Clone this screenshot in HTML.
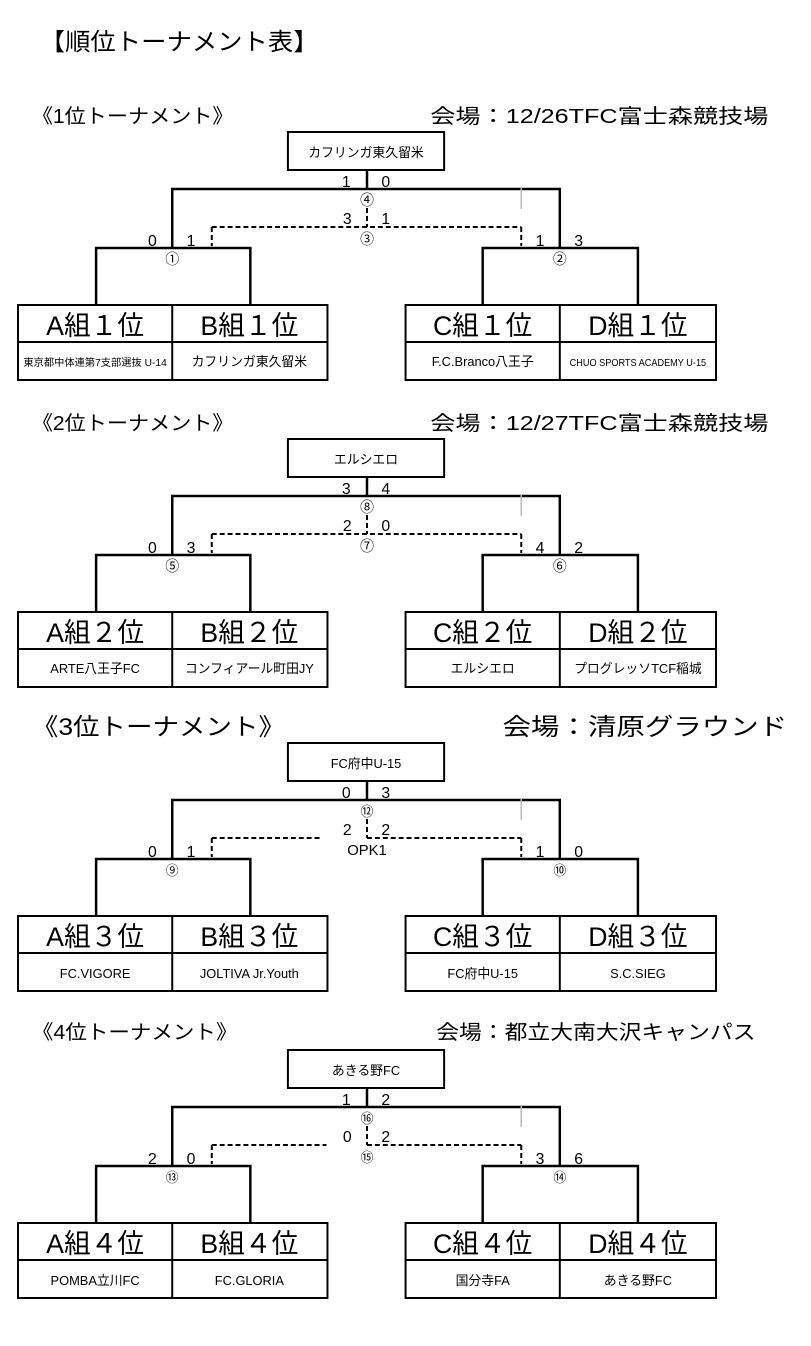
<!DOCTYPE html>
<html><head><meta charset="utf-8"><style>
html,body{margin:0;padding:0;background:#fff;}
svg{display:block;}
text{font-family:"Liberation Sans","Noto Sans CJK JP",sans-serif;fill:#000;}
</style></head><body>
<svg width="811" height="1346" viewBox="0 0 811 1346" xmlns="http://www.w3.org/2000/svg">
<defs>
<g id="br" fill="none" stroke="#000">
  <rect x="291" y="132" width="158" height="38" stroke-width="2"/>
  <line x1="371" y1="170" x2="371" y2="189" stroke-width="2.5"/>
  <polyline points="174,248 174,189 566,189 566,248" stroke-width="2.5"/>
  <polyline points="97,305 97,248 253,248 253,305" stroke-width="2.5"/>
  <polyline points="488,305 488,248 645,248 645,305" stroke-width="2.5"/>
  <line x1="527" y1="188" x2="527" y2="209" stroke="#b8b0e0" stroke-width="1.5"/>
  <rect x="18" y="305" width="313" height="75" stroke-width="2"/>
  <line x1="18" y1="342" x2="331" y2="342" stroke-width="2"/>
  <line x1="174" y1="305" x2="174" y2="380" stroke-width="2"/>
  <rect x="410" y="305" width="314" height="75" stroke-width="2"/>
  <line x1="410" y1="342" x2="724" y2="342" stroke-width="2"/>
  <line x1="566" y1="305" x2="566" y2="380" stroke-width="2"/>
  <g stroke-dasharray="5,3" stroke-width="2">
    <line x1="371" y1="208" x2="371" y2="227"/>
    <line x1="214" y1="227" x2="214" y2="246"/>
    <line x1="527" y1="227" x2="527" y2="246"/>
  </g>
</g>
</defs>
<g transform="translate(0.2,0) scale(0.9887,1)">
<text x="40" y="50" font-size="24" textLength="282" lengthAdjust="spacingAndGlyphs">【順位トーナメント表】</text>

<!-- Section 1 -->
<g transform="translate(0,0)">
<use href="#br"/>
<line x1="214" y1="227" x2="527" y2="227" stroke="#000" stroke-width="2" stroke-dasharray="5,3"/>
<text x="32" y="123" font-size="20" textLength="204" lengthAdjust="spacingAndGlyphs">《1位トーナメント》</text>
<text x="435" y="123" font-size="20" textLength="342" lengthAdjust="spacingAndGlyphs">会場：12/26TFC富士森競技場</text>
<text x="370" y="157" font-size="13" text-anchor="middle">カフリンガ東久留米</text>
<text x="350" y="187" font-size="16" text-anchor="middle">1</text><text x="390" y="187" font-size="16" text-anchor="middle">0</text>
<text x="371" y="205" font-size="14" text-anchor="middle">④</text>
<text x="351" y="224" font-size="16" text-anchor="middle">3</text><text x="390" y="224" font-size="16" text-anchor="middle">1</text>
<text x="371" y="244" font-size="14" text-anchor="middle">③</text>
<text x="154" y="246" font-size="16" text-anchor="middle">0</text><text x="193" y="246" font-size="16" text-anchor="middle">1</text>
<text x="174" y="264" font-size="14" text-anchor="middle">①</text>
<text x="546" y="246" font-size="16" text-anchor="middle">1</text><text x="585" y="246" font-size="16" text-anchor="middle">3</text>
<text x="566" y="264" font-size="14" text-anchor="middle">②</text>
<text x="96" y="335" font-size="27" text-anchor="middle">A組１位</text>
<text x="252" y="335" font-size="27" text-anchor="middle">B組１位</text>
<text x="488" y="335" font-size="27" text-anchor="middle">C組１位</text>
<text x="645" y="335" font-size="27" text-anchor="middle">D組１位</text>
<text x="96" y="366" font-size="10" text-anchor="middle" textLength="145" lengthAdjust="spacingAndGlyphs">東京都中体連第7支部選抜 U-14</text>
<text x="252" y="366" font-size="13" text-anchor="middle">カフリンガ東久留米</text>
<text x="488" y="366" font-size="13" text-anchor="middle">F.C.Branco八王子</text>
<text x="645" y="366" font-size="10" text-anchor="middle" textLength="138" lengthAdjust="spacingAndGlyphs">CHUO SPORTS ACADEMY U-15</text>
</g>

<!-- Section 2 -->
<g transform="translate(0,307)">
<use href="#br"/>
<line x1="214" y1="227" x2="527" y2="227" stroke="#000" stroke-width="2" stroke-dasharray="5,3"/>
<text x="32" y="123" font-size="20" textLength="204" lengthAdjust="spacingAndGlyphs">《2位トーナメント》</text>
<text x="435" y="123" font-size="20" textLength="342" lengthAdjust="spacingAndGlyphs">会場：12/27TFC富士森競技場</text>
<text x="370" y="157" font-size="13" text-anchor="middle">エルシエロ</text>
<text x="350" y="187" font-size="16" text-anchor="middle">3</text><text x="390" y="187" font-size="16" text-anchor="middle">4</text>
<text x="371" y="205" font-size="14" text-anchor="middle">⑧</text>
<text x="351" y="224" font-size="16" text-anchor="middle">2</text><text x="390" y="224" font-size="16" text-anchor="middle">0</text>
<text x="371" y="244" font-size="14" text-anchor="middle">⑦</text>
<text x="154" y="246" font-size="16" text-anchor="middle">0</text><text x="193" y="246" font-size="16" text-anchor="middle">3</text>
<text x="174" y="264" font-size="14" text-anchor="middle">⑤</text>
<text x="546" y="246" font-size="16" text-anchor="middle">4</text><text x="585" y="246" font-size="16" text-anchor="middle">2</text>
<text x="566" y="264" font-size="14" text-anchor="middle">⑥</text>
<text x="96" y="335" font-size="27" text-anchor="middle">A組２位</text>
<text x="252" y="335" font-size="27" text-anchor="middle">B組２位</text>
<text x="488" y="335" font-size="27" text-anchor="middle">C組２位</text>
<text x="645" y="335" font-size="27" text-anchor="middle">D組２位</text>
<text x="96" y="366" font-size="13" text-anchor="middle">ARTE八王子FC</text>
<text x="252" y="366" font-size="13" text-anchor="middle">コンフィアール町田JY</text>
<text x="488" y="366" font-size="13" text-anchor="middle">エルシエロ</text>
<text x="645" y="366" font-size="13" text-anchor="middle">プログレッソTCF稲城</text>
</g>

<!-- Section 3 -->
<g transform="translate(0,611)">
<use href="#br"/>
<line x1="214" y1="227" x2="325" y2="227" stroke="#000" stroke-width="2" stroke-dasharray="5,3"/>
<line x1="371" y1="227" x2="527" y2="227" stroke="#000" stroke-width="2" stroke-dasharray="5,3"/>
<text x="32" y="124" font-size="24" textLength="256" lengthAdjust="spacingAndGlyphs">《3位トーナメント》</text>
<text x="508" y="124" font-size="24" textLength="288" lengthAdjust="spacingAndGlyphs">会場：清原グラウンド</text>
<text x="370" y="157" font-size="13" text-anchor="middle">FC府中U-15</text>
<text x="350" y="187" font-size="16" text-anchor="middle">0</text><text x="390" y="187" font-size="16" text-anchor="middle">3</text>
<text x="371" y="205" font-size="13" text-anchor="middle">⑫</text>
<text x="351" y="224" font-size="16" text-anchor="middle">2</text><text x="390" y="224" font-size="16" text-anchor="middle">2</text>
<text x="371" y="244" font-size="15" text-anchor="middle">OPK1</text>
<text x="154" y="246" font-size="16" text-anchor="middle">0</text><text x="193" y="246" font-size="16" text-anchor="middle">1</text>
<text x="174" y="264" font-size="13" text-anchor="middle">⑨</text>
<text x="546" y="246" font-size="16" text-anchor="middle">1</text><text x="585" y="246" font-size="16" text-anchor="middle">0</text>
<text x="566" y="264" font-size="13" text-anchor="middle">⑩</text>
<text x="96" y="335" font-size="27" text-anchor="middle">A組３位</text>
<text x="252" y="335" font-size="27" text-anchor="middle">B組３位</text>
<text x="488" y="335" font-size="27" text-anchor="middle">C組３位</text>
<text x="645" y="335" font-size="27" text-anchor="middle">D組３位</text>
<text x="96" y="367" font-size="13" text-anchor="middle">FC.VIGORE</text>
<text x="252" y="367" font-size="13" text-anchor="middle">JOLTIVA Jr.Youth</text>
<text x="488" y="367" font-size="13" text-anchor="middle">FC府中U-15</text>
<text x="645" y="367" font-size="13" text-anchor="middle">S.C.SIEG</text>
</g>

<!-- Section 4 -->
<g transform="translate(0,918)">
<use href="#br"/>
<line x1="214" y1="227" x2="330" y2="227" stroke="#000" stroke-width="2" stroke-dasharray="5,3"/>
<line x1="371" y1="227" x2="527" y2="227" stroke="#000" stroke-width="2" stroke-dasharray="5,3"/>
<text x="32" y="121" font-size="20" textLength="208" lengthAdjust="spacingAndGlyphs">《4位トーナメント》</text>
<text x="441" y="121" font-size="20" textLength="323" lengthAdjust="spacingAndGlyphs">会場：都立大南大沢キャンパス</text>
<text x="370" y="157" font-size="13" text-anchor="middle">あきる野FC</text>
<text x="350" y="187" font-size="16" text-anchor="middle">1</text><text x="390" y="187" font-size="16" text-anchor="middle">2</text>
<text x="371" y="205" font-size="13" text-anchor="middle">⑯</text>
<text x="351" y="224" font-size="16" text-anchor="middle">0</text><text x="390" y="224" font-size="16" text-anchor="middle">2</text>
<text x="371" y="244" font-size="13" text-anchor="middle">⑮</text>
<text x="154" y="246" font-size="16" text-anchor="middle">2</text><text x="193" y="246" font-size="16" text-anchor="middle">0</text>
<text x="174" y="264" font-size="13" text-anchor="middle">⑬</text>
<text x="546" y="246" font-size="16" text-anchor="middle">3</text><text x="585" y="246" font-size="16" text-anchor="middle">6</text>
<text x="566" y="264" font-size="13" text-anchor="middle">⑭</text>
<text x="96" y="335" font-size="27" text-anchor="middle">A組４位</text>
<text x="252" y="335" font-size="27" text-anchor="middle">B組４位</text>
<text x="488" y="335" font-size="27" text-anchor="middle">C組４位</text>
<text x="645" y="335" font-size="27" text-anchor="middle">D組４位</text>
<text x="96" y="367" font-size="13" text-anchor="middle">POMBA立川FC</text>
<text x="252" y="367" font-size="13" text-anchor="middle">FC.GLORIA</text>
<text x="488" y="367" font-size="13" text-anchor="middle">国分寺FA</text>
<text x="645" y="367" font-size="13" text-anchor="middle">あきる野FC</text>
</g>
</g>
</svg>
</body></html>
